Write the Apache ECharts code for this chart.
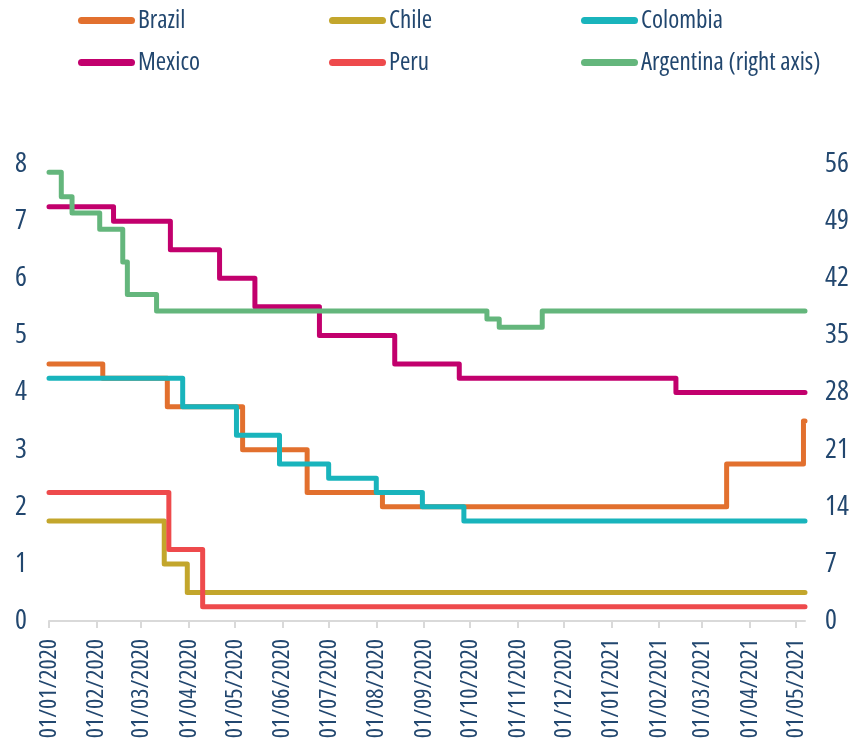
<!DOCTYPE html>
<html><head><meta charset="utf-8">
<script src="https://cdn.jsdelivr.net/npm/echarts@6/dist/echarts.min.js"></script>
<style>html,body{margin:0;padding:0;background:#fff}#c{width:859px;height:744px}</style>
</head><body><div id="c"></div>
<script>
// ---- data ----
const tickLabels = ['01/01/2020','01/02/2020','01/03/2020','01/04/2020','01/05/2020','01/06/2020',
  '01/07/2020','01/08/2020','01/09/2020','01/10/2020','01/11/2020','01/12/2020',
  '01/01/2021','01/02/2021','01/03/2021','01/04/2021','01/05/2021'];
const axisStart = '2020-01-01';
const axisEnd = '2021-05-07';

const brazilDates = ['2020-01-01','2020-02-05','2020-03-18','2020-05-06','2020-06-17','2020-08-05','2021-03-17','2021-05-06'];
const brazilRates = [4.5, 4.25, 3.75, 3.0, 2.25, 2.0, 2.75, 3.5];

const chileDates = ['2020-01-01','2020-03-16','2020-03-31'];
const chileRates = [1.75, 1.0, 0.5];

const colombiaDates = ['2020-01-01','2020-03-28','2020-05-02','2020-05-30','2020-07-01','2020-08-01','2020-08-31','2020-09-27'];
const colombiaRates = [4.25, 3.75, 3.25, 2.75, 2.5, 2.25, 2.0, 1.75];

const mexicoDates = ['2020-01-01','2020-02-12','2020-03-20','2020-04-21','2020-05-14','2020-06-25','2020-08-13','2020-09-24','2021-02-12'];
const mexicoRates = [7.25, 7.0, 6.5, 6.0, 5.5, 5.0, 4.5, 4.25, 4.0];

const peruDates = ['2020-01-01','2020-03-19','2020-04-10'];
const peruRates = [2.25, 1.25, 0.25];

const argentinaDates = ['2020-01-01','2020-01-09','2020-01-16','2020-02-03','2020-02-18','2020-02-21','2020-03-11','2020-10-12','2020-10-20','2020-11-17'];
const argentinaRates = [55, 52, 50, 48, 44, 40, 38, 37, 36, 38];

const leftTicks = {min: 0, max: 8, interval: 1};
const rightTicks = {min: 0, max: 56, interval: 7};

// ---- helpers ----
function ts(s) { const p = s.split('-').map(Number); return new Date(p[0], p[1] - 1, p[2]).getTime(); }
function tsFromLabel(l) { const p = l.split('/').map(Number); return new Date(p[2], p[1] - 1, p[0]).getTime(); }
function pad(n) { return (n < 10 ? '0' : '') + n; }
function fmt(v) { const d = new Date(v); return pad(d.getDate()) + '/' + pad(d.getMonth() + 1) + '/' + d.getFullYear(); }
function build(dates, rates) {
  const pts = dates.map((d, i) => [ts(d), rates[i]]);
  pts.push([ts(axisEnd), rates[rates.length - 1]]);
  return pts;
}

const FONT = "'Open Sans', 'Liberation Sans', sans-serif";
const STRETCH = 'condensed';   // selects the condensed face of Open Sans
const TXT = '#22476F';
const tickValues = tickLabels.map(tsFromLabel);

const seriesDefs = [
  {name: 'Brazil', color: '#E2702E', data: build(brazilDates, brazilRates), y: 0},
  {name: 'Chile', color: '#C3A62C', data: build(chileDates, chileRates), y: 0},
  {name: 'Colombia', color: '#19B4BC', data: build(colombiaDates, colombiaRates), y: 0},
  {name: 'Mexico', color: '#C2006D', data: build(mexicoDates, mexicoRates), y: 0},
  {name: 'Peru', color: '#EE4A4C', data: build(peruDates, peruRates), y: 0},
  {name: 'Argentina (right axis)', color: '#64B67C', data: build(argentinaDates, argentinaRates), y: 1}
];

const PILL = 'path://M3.5,0 H53.5 A3.5,3.5 0 0 1 53.5,7 H3.5 A3.5,3.5 0 0 1 3.5,0 Z';
const legendPos = [[78, 8], [329, 8], [581, 8], [78, 50], [329, 50], [581, 50]];
const legends = seriesDefs.map((s, i) => ({
  left: legendPos[i][0], top: legendPos[i][1], padding: 0,
  data: [{name: s.name, icon: PILL}],
  itemWidth: 57, itemHeight: 7, selectedMode: false,
  textStyle: {fontFamily: FONT, fontWeight: STRETCH, fontSize: 25, color: TXT, padding: [0, 0, 0, -2]}
}));

const chart = echarts.init(document.getElementById('c'), null, {renderer: 'canvas'});
chart.setOption({
  animation: false,
  backgroundColor: '#fff',
  legend: legends,
  grid: {left: 49, right: 54, top: 164, bottom: 123, containLabel: false, outerBoundsMode: 'none'},
  xAxis: {
    type: 'value', min: ts(axisStart), max: ts(axisEnd), scale: true,
    splitLine: {show: false},
    axisLine: {show: true, onZero: false, lineStyle: {color: '#D9D9D9', width: 2}},
    axisTick: {show: true, length: 7, lineStyle: {color: '#D9D9D9', width: 2}, customValues: tickValues},
    axisLabel: {
      customValues: tickValues, rotate: 90, margin: 18,
      fontFamily: FONT, fontWeight: STRETCH, fontSize: 24, color: TXT,
      formatter: v => fmt(v)
    }
  },
  yAxis: [
    {type: 'value', min: leftTicks.min, max: leftTicks.max, interval: leftTicks.interval,
     axisLine: {show: false}, axisTick: {show: false}, splitLine: {show: false},
     axisLabel: {fontFamily: FONT, fontWeight: STRETCH, fontSize: 28, color: TXT, margin: 22}},
    {type: 'value', position: 'right', min: rightTicks.min, max: rightTicks.max, interval: rightTicks.interval,
     axisLine: {show: false}, axisTick: {show: false}, splitLine: {show: false},
     axisLabel: {fontFamily: FONT, fontWeight: STRETCH, fontSize: 28, color: TXT, margin: 20}}
  ],
  series: seriesDefs.map(s => ({
    name: s.name, type: 'line', step: 'end', yAxisIndex: s.y,
    data: s.data, showSymbol: false, symbol: 'none',
    itemStyle: {color: s.color},
    lineStyle: {color: s.color, width: 5, join: 'round', cap: 'round'}
  }))
});
</script>
</body></html>
